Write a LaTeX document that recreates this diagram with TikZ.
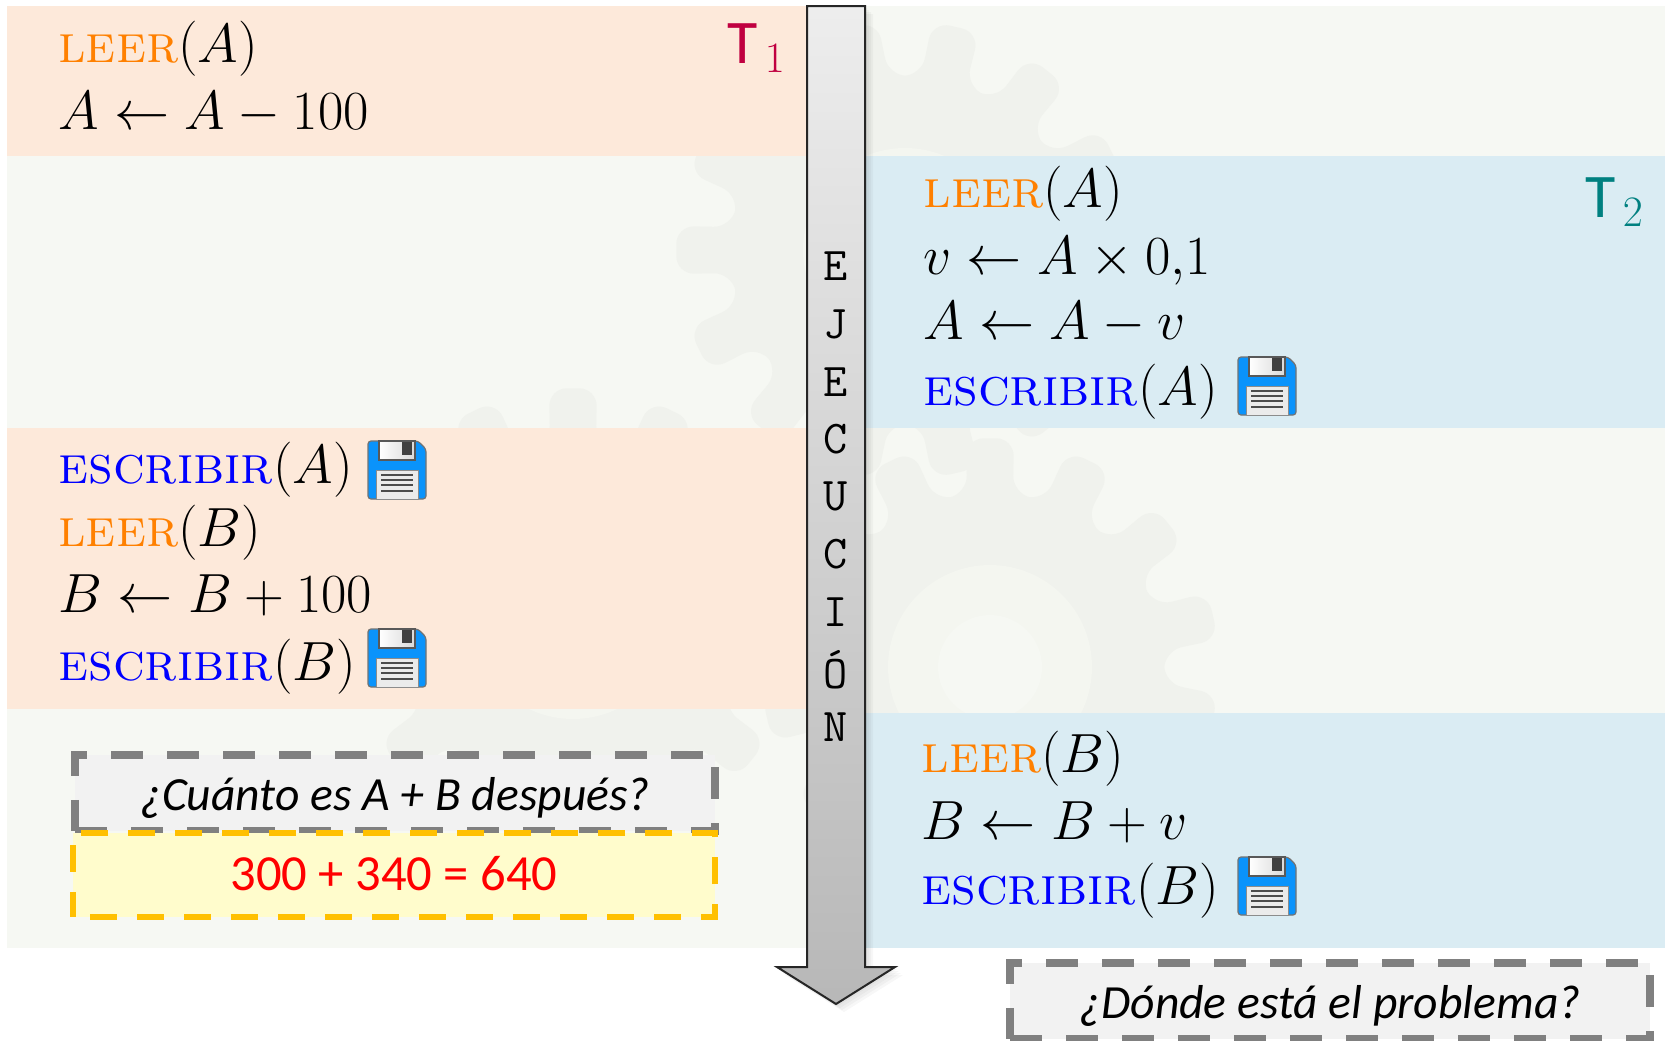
\documentclass[tikz,border=0pt]{standalone}
\usepackage{fix-cm}
\usepackage{fontspec}
\newfontfamily\carlito{Carlito}
\definecolor{fondo}{HTML}{F6F8F3}
\definecolor{naranjaT}{HTML}{FDE9DA}
\definecolor{azulT}{HTML}{DAECF3}
\definecolor{ordenleer}{HTML}{FF8000}
\definecolor{ordenesc}{HTML}{0000FF}
\definecolor{rojoT}{HTML}{C00040}
\definecolor{verdeT}{HTML}{008080}
\definecolor{grisbox}{HTML}{808080}
\definecolor{amarillobox}{HTML}{FFC000}
\newcommand{\orden}[1]{{\fontsize{26.9}{30}\selectfont\textsc{#1}}}
\newcommand{\leer}[1]{\textcolor{ordenleer}{\orden{leer}}$(#1)$}
\newcommand{\escribir}[1]{\textcolor{ordenesc}{\orden{escribir}}$(#1)$}
\tikzset{
  linea/.style={anchor=base west, inner sep=0pt, font=\fontsize{27.6}{30}\selectfont},
  etiqueta/.style={anchor=base west, inner sep=0pt, font=\fontsize{31}{34}\selectfont\carlito},
  pregunta/.style={draw=grisbox, fill=black!5, line width=4.2pt, dash pattern=on 16pt off 12pt,
    minimum width=320pt, minimum height=37.75pt, inner sep=0pt, text height=20pt, text depth=3pt,
    font=\fontsize{23.8}{28}\selectfont\carlito\itshape},
  respuesta/.style={draw=amarillobox, fill=yellow!20, line width=3.4pt, dash pattern=on 13.5pt off 10pt, dash phase=15pt,
    minimum width=321pt, minimum height=42pt, inner sep=0pt, text height=19pt, text depth=4pt, text=red,
    font=\fontsize{25.3}{28}\selectfont\carlito},
  engranaje/.pic={
    \fill[fondo!97.5!black, rounded corners=9pt] (82:175)
      \foreach \i in {0,...,13} { -- ({90+\i*360/14-7.5}:175) -- ({90+\i*360/14-6}:230) -- ({90+\i*360/14+6}:230) -- ({90+\i*360/14+7.5}:175) } -- cycle;
    \fill[fondo!99!black] (0,0) circle (51pt);
    \fill[fondo] (0,0) circle (26pt);
  },
  disquete/.pic={
    \draw[black!55, line width=.6pt, fill={rgb,255:red,10;green,147;blue,251}, rounded corners=1.5pt]
      (0,0) -- (50,0) -- (58,8) -- (58,58) -- (0,58) -- cycle;
    \draw[black!65, line width=.6pt, left color=white, right color=black!15] (11,0) -- (47,0) -- (47,19) -- (11,19) -- cycle;
    \fill[black!75] (34,1) rectangle (44,14);
    \draw[black!45, line width=.4pt, fill=black!8] (8,29) rectangle (50,58);
    \foreach \y in {34,39,44,50} \draw[black!70, line width=.7pt] (13,\y) -- (45,\y);
  }
}
\begin{document}
\begin{tikzpicture}[x=0.5pt,y=-0.5pt]
  \useasboundingbox (0,0) rectangle (1665,1040);
  \fill[fondo] (7,6) rectangle (1665,948);
  \pic[rotate=12.86] at (905,250) {engranaje};
  \pic at (573,617) {engranaje};
  \pic at (990,667) {engranaje};

  \fill[naranjaT] (7,6) rectangle (807,156);
  \fill[naranjaT] (7,428) rectangle (807,709);
  \fill[azulT] (865,156) rectangle (1665,428);
  \fill[azulT] (865,713) rectangle (1665,948);

  \node[linea] (leerA) at (58,62) {\leer{A}};
  \node[linea] (restaA) at (58,129) {$A \leftarrow A - 100$};
  \node[linea] (escA) at (58,483) {\escribir{A}};
  \node[linea] (leerB) at (58,546) {\leer{B}};
  \node[linea] (sumaB) at (58,612) {$B \leftarrow B + 100$};
  \node[linea] (escB) at (58,680) {\escribir{B}};

  \node[linea] (leerAdos) at (923,207) {\leer{A}};
  \node[linea] (calcV) at (923,274) {$v \leftarrow A \times 0{,}1$};
  \node[linea] (restaV) at (923,339) {$A \leftarrow A - v$};
  \node[linea] (escAdos) at (923,405) {\escribir{A}};
  \node[linea] (leerBdos) at (921,772) {\leer{B}};
  \node[linea] (sumaV) at (921,839) {$B \leftarrow B + v$};
  \node[linea] (escBdos) at (921,904) {\escribir{B}};

  \pic at (368,441) {disquete};
  \pic at (368,629) {disquete};
  \pic at (1238,357) {disquete};
  \pic at (1238,857) {disquete};

  \node[etiqueta, text=rojoT] (tuno) at (727,63) {T$_{\,1}$};
  \node[etiqueta, text=verdeT] (tdos) at (1585,217) {T$_{\,2}$};

  \node[pregunta] (cuanto) at (395,793) {¿Cuánto es A + B después?};
  \node[respuesta] (suma) at (394,875) {300 + 340 = 640};
  \node[pregunta] (donde) at (1330,1001) {¿Dónde está el problema?};

  \foreach \s in {2,4,6,8}
    \fill[black, opacity=.03] (807+\s,6+\s) -- (865+\s,6+\s) -- (865+\s,967+\s) -- (895+\s,967+\s) -- (836+\s,1004+\s) -- (777+\s,967+\s) -- (807+\s,967+\s) -- cycle;
  \draw[black!85, line width=1pt, top color=black!7, bottom color=black!28]
    (807,6) -- (865,6) -- (865,967) -- (895,967) -- (836,1004) -- (777,967) -- (807,967) -- cycle;
  \foreach \letra [count=\i] in {E,J,E,C,U,C,I,Ó,N}
    \node[inner sep=0pt, font=\fontsize{23.5}{24}\selectfont\ttfamily] (ejec\i) at (836,{266.5+(\i-1)*57.6}) {\letra};
\end{tikzpicture}
\end{document}
